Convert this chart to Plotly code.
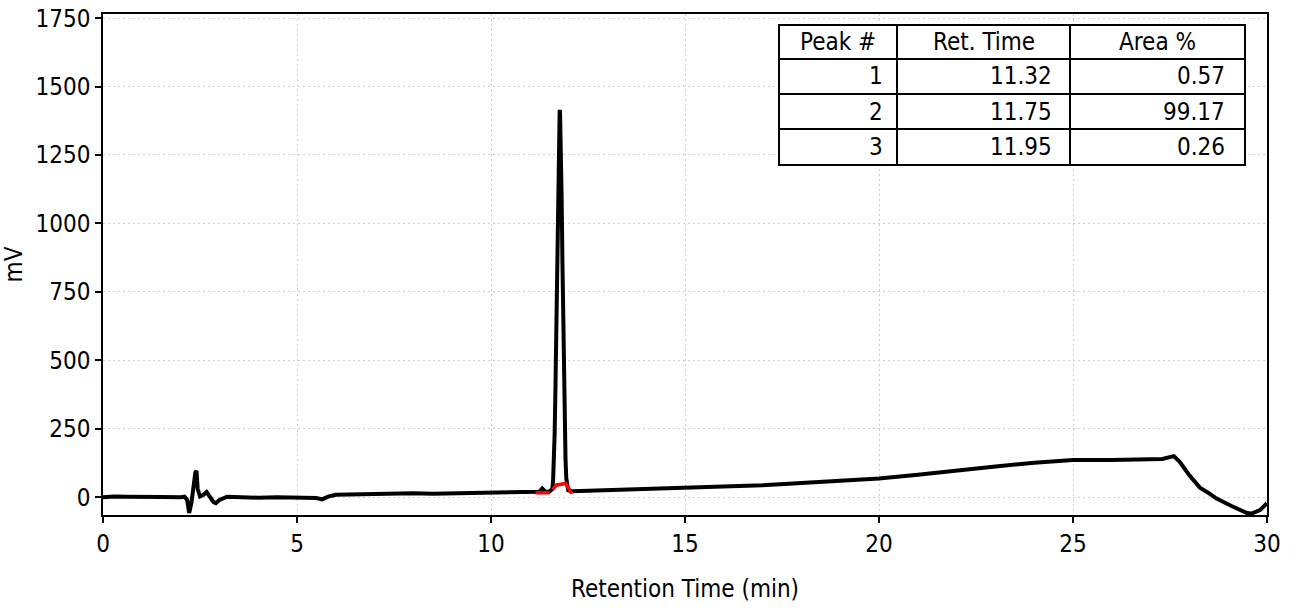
import plotly.graph_objects as go

# ---- data ----
time_min = [0.0, 0.3, 0.6, 1.0, 1.5, 2.0, 2.1, 2.17, 2.22, 2.28, 2.33, 2.38, 2.41, 2.44, 2.5,
            2.6, 2.67, 2.75, 2.85, 2.91, 3.0, 3.2, 3.5, 4.0, 4.5, 5.0, 5.5, 5.65, 5.8, 6.0,
            6.5, 7.0, 7.5, 8.0, 8.5, 9.0, 9.5, 10.0, 10.5, 11.0, 11.25, 11.32, 11.4, 11.5,
            11.58, 11.60, 11.62, 11.64, 11.66, 11.68, 11.70, 11.72, 11.74, 11.76, 11.77,
            11.78, 11.80, 11.82, 11.84, 11.86, 11.88, 11.90, 11.92, 11.94, 11.96, 11.99,
            12.1, 12.5, 13.0, 14.0, 15.0, 16.0, 16.6, 17.0, 18.0, 19.0, 20.0, 21.0, 22.0,
            23.0, 24.0, 24.7, 25.0, 26.0, 27.0, 27.3, 27.6, 27.75, 28.0, 28.27, 28.5, 28.7,
            29.1, 29.3, 29.47, 29.6, 29.82, 30.0]
signal_mv = [0, 3, 2, 0, 1, 0, 2, -10, -58, -20, 40, 90, 96, 30, 3,
             10, 19, 5, -18, -22, -10, 2, 0, -2, 0, -1, -3, -8, 2, 9,
             10, 14, 12, 14, 13, 14, 15, 16, 18, 19, 20, 32, 20, 20,
             30, 60, 120, 230, 390, 600, 830, 1060, 1260, 1390, 1415,
             1400, 1290, 1100, 870, 640, 430, 260, 140, 70, 40, 25,
             22, 24, 26, 30, 34, 38, 43, 44, 52, 60, 68, 82, 98,
             112, 126, 135, 136, 136, 137, 140, 150, 129, 80, 35, 15, -5,
             -33, -45, -57, -60, -47, -22]

peak1_mark_t = [11.19, 11.19, 11.19, 11.47, 11.47, 11.47]
peak1_mark_mv = [10, 22, 16, 16, 22, 10]
peak23_mark_t = [11.59, 11.68, 11.91, 11.97, 12.08]
peak23_mark_mv = [28, 44, 50, 40, 13]

table_header = ["Peak #", "Ret. Time", "Area %"]
peak_no = ["1", "2", "3"]
ret_time = ["11.32", "11.75", "11.95"]
area_pct = ["0.57", "99.17", "0.26"]

x_ticks = [0, 5, 10, 15, 20, 25, 30]
y_ticks = [0, 250, 500, 750, 1000, 1250, 1500, 1750]

FONT = "DejaVu Sans Condensed, DejaVu Sans, sans-serif"
FS = 24

fig = go.Figure()
fig.add_trace(go.Scatter(x=time_min, y=signal_mv, mode="lines",
                         line=dict(color="black", width=4), showlegend=False))
fig.add_trace(go.Scatter(x=peak1_mark_t, y=peak1_mark_mv, mode="lines",
                         line=dict(color="red", width=3.5), showlegend=False))
fig.add_trace(go.Scatter(x=peak23_mark_t, y=peak23_mark_mv, mode="lines",
                         line=dict(color="red", width=3.5), showlegend=False))

# ---- table (pixel geometry converted to paper coords) ----
W, H = 1299, 611
ml, mr, mt, mb = 103, 32, 14, 96
pw, ph = W - ml - mr, H - mt - mb


def px(xp):
    return (xp - ml) / pw


def py(yp):
    return (H - mb - yp) / ph


col_edges = [779, 897, 1070, 1245]
row_edges = [25, 59, 94, 129, 165]
shapes = []
shapes.append(dict(type="rect", xref="paper", yref="paper", x0=px(col_edges[0]), x1=px(col_edges[-1]),
                   y0=py(row_edges[-1]), y1=py(row_edges[0]), fillcolor="white",
                   line=dict(color="black", width=2), layer="above"))
for c in col_edges[1:-1]:
    shapes.append(dict(type="line", xref="paper", yref="paper", x0=px(c), x1=px(c),
                       y0=py(row_edges[-1]), y1=py(row_edges[0]), line=dict(color="black", width=2)))
for r in row_edges[1:-1]:
    shapes.append(dict(type="line", xref="paper", yref="paper", x0=px(col_edges[0]), x1=px(col_edges[-1]),
                       y0=py(r), y1=py(r), line=dict(color="black", width=2)))

annotations = []
for i, h in enumerate(table_header):
    cx = (col_edges[i] + col_edges[i + 1]) / 2
    cy = (row_edges[0] + row_edges[1]) / 2
    annotations.append(dict(text=h, xref="paper", yref="paper", x=px(cx), y=py(cy),
                            xanchor="center", yanchor="middle", showarrow=False,
                            font=dict(family=FONT, size=24, color="black")))
pads = [12, 16, 18]
for r, row in enumerate(zip(peak_no, ret_time, area_pct)):
    cy = (row_edges[r + 1] + row_edges[r + 2]) / 2
    for c, val in enumerate(row):
        annotations.append(dict(text=val, xref="paper", yref="paper",
                                x=px(col_edges[c + 1] - pads[c]), y=py(cy),
                                xanchor="right", yanchor="middle", showarrow=False,
                                font=dict(family=FONT, size=24, color="black")))

axis_common = dict(showline=True, linecolor="black", linewidth=1.5, mirror=True,
                   ticks="outside", ticklen=6, tickwidth=1.5, tickcolor="black",
                   showgrid=True, gridcolor="#cfcfcf", gridwidth=1, griddash="2px,3px",
                   zeroline=False, automargin=False,
                   tickfont=dict(family=FONT, size=FS, color="black"))

fig.update_layout(
    width=W, height=H,
    margin=dict(l=ml, r=mr, t=mt, b=mb),
    plot_bgcolor="white", paper_bgcolor="white",
    xaxis=dict(range=[0, 30], tickvals=x_ticks,
               title=dict(text="Retention Time (min)", font=dict(family=FONT, size=FS, color="black"),
                          standoff=24),
               **axis_common),
    yaxis=dict(range=[-65, 1765], tickvals=y_ticks,
               title=dict(text="mV", font=dict(family=FONT, size=FS, color="black"), standoff=12),
               **axis_common),
    shapes=shapes,
    annotations=annotations,
)

fig.write_html("out.html")
